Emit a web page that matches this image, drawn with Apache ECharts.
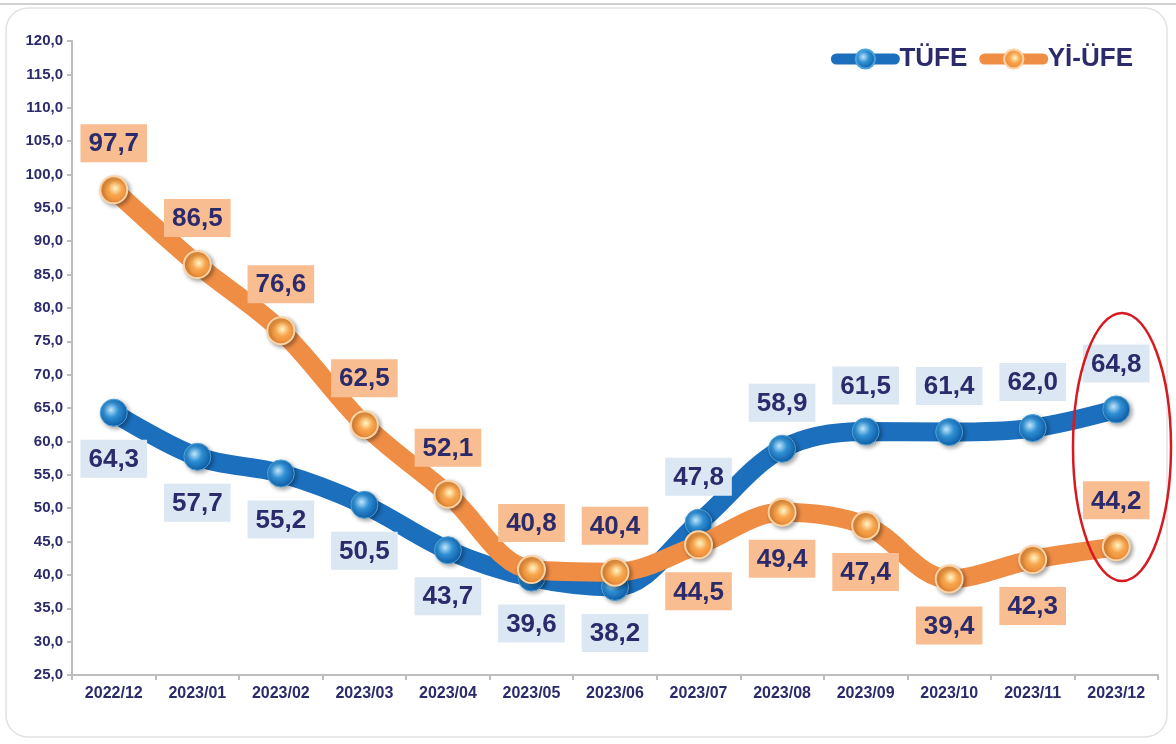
<!DOCTYPE html>
<html>
<head>
<meta charset="utf-8">
<script src="https://cdn.jsdelivr.net/npm/echarts@6/dist/echarts.min.js"></script>
<style>
  html, body { margin: 0; padding: 0; background: #fff; }
  #chart { width: 1176px; height: 744px; }
</style>
</head>
<body>
<div id="chart"></div>
<script>
const months = ['2022/12', '2023/01', '2023/02', '2023/03', '2023/04', '2023/05', '2023/06',
  '2023/07', '2023/08', '2023/09', '2023/10', '2023/11', '2023/12']
const tufe = [64.3, 57.7, 55.2, 50.5, 43.7, 39.6, 38.2, 47.8, 58.9, 61.5, 61.4, 62.0, 64.8]
const yiufe = [97.7, 86.5, 76.6, 62.5, 52.1, 40.8, 40.4, 44.5, 49.4, 47.4, 39.4, 42.3, 44.2]

// which side each value label sits on
const tufeLabelSide = ['bottom', 'bottom', 'bottom', 'bottom', 'bottom', 'bottom', 'bottom',
  'top', 'top', 'top', 'top', 'top', 'top']
const yiufeLabelSide = ['top', 'top', 'top', 'top', 'top', 'top', 'top',
  'bottom', 'bottom', 'bottom', 'bottom', 'bottom', 'top']

const navy = '#2b2a6b'
const font = 'Liberation Sans, Arial, sans-serif'
const fmt = (v) => v.toFixed(1).replace('.', ',')

const blueBall = {
  type: 'radial', x: 0.4, y: 0.4, r: 0.6,
  colorStops: [
    { offset: 0, color: '#bfe6fb' },
    { offset: 0.45, color: '#2f8fd3' },
    { offset: 1, color: '#0f5ea8' },
  ],
}
const orangeBall = {
  type: 'radial', x: 0.55, y: 0.45, r: 0.6,
  colorStops: [
    { offset: 0, color: '#fff6c8' },
    { offset: 0.4, color: '#f7a54d' },
    { offset: 1, color: '#e8822f' },
  ],
}

const makeData = (values, sides, bg) =>
  values.map((v, i) => ({
    value: v,
    label: { position: sides[i], backgroundColor: bg },
  }))

const chart = echarts.init(document.getElementById('chart'))

const baseLabel = {
  show: true,
  formatter: (p) => fmt(p.value),
  color: navy,
  fontSize: 26,
  fontWeight: 'bold',
  fontFamily: font,
  padding: [7, 8, 5, 8],
  distance: 13,
}

chart.setOption({
  backgroundColor: '#fff',
  animation: false,
  grid: { left: 72, right: 18, top: 41, bottom: 69 },
  legend: {
    right: 38,
    top: 41,
    itemWidth: 58,
    itemHeight: 24,
    itemGap: 12,
    lineStyle: { width: 11 },
    textStyle: { color: navy, fontSize: 26, fontWeight: 'bold', fontFamily: font },
    data: ['TÜFE', 'Yİ-ÜFE'],
  },
  xAxis: {
    type: 'category',
    data: months,
    boundaryGap: true,
    axisLine: { lineStyle: { color: '#bdbdbd', width: 2 } },
    axisTick: { show: true, length: 5, lineStyle: { color: '#bdbdbd', width: 2 } },
    axisLabel: { color: navy, fontSize: 16, fontWeight: 'bold', margin: 11, fontFamily: font },
  },
  yAxis: {
    type: 'value',
    min: 25,
    max: 120,
    interval: 5,
    axisLine: { show: true, lineStyle: { color: '#bdbdbd', width: 2 } },
    axisTick: { show: true, length: 5, lineStyle: { color: '#bdbdbd', width: 2 } },
    splitLine: { show: false },
    axisLabel: {
      color: navy, fontSize: 15, fontWeight: 'bold', margin: 9,
      formatter: (v) => fmt(v), fontFamily: font,
    },
  },
  series: [
    {
      name: 'TÜFE',
      type: 'line',
      smooth: 0.35,
      symbol: 'circle',
      symbolSize: 27,
      z: 2,
      lineStyle: { color: '#1b6fbd', width: 19, cap: 'round' },
      itemStyle: {
        color: blueBall,
        borderColor: '#4aa3dc',
        borderWidth: 1,
        shadowColor: 'rgba(0,0,0,0.35)',
        shadowBlur: 4,
        shadowOffsetX: 2,
        shadowOffsetY: 2,
      },
      label: baseLabel,
      data: makeData(tufe, tufeLabelSide, '#dbe7f3'),
    },
    {
      name: 'Yİ-ÜFE',
      type: 'line',
      smooth: 0.35,
      symbol: 'circle',
      symbolSize: 27,
      z: 3,
      lineStyle: { color: '#f08d45', width: 19, cap: 'round' },
      itemStyle: {
        color: orangeBall,
        borderColor: '#fbd3a5',
        borderWidth: 2,
        shadowColor: 'rgba(0,0,0,0.35)',
        shadowBlur: 4,
        shadowOffsetX: 2,
        shadowOffsetY: 2,
      },
      label: baseLabel,
      data: makeData(yiufe, yiufeLabelSide, '#f8bd90'),
    },
  ],
  graphic: [
    {
      type: 'rect',
      silent: true,
      z: -10,
      shape: { x: 6, y: 8, width: 1161, height: 729, r: 22 },
      style: { fill: 'none', stroke: '#e2e2e2', lineWidth: 1.5 },
    },
    {
      type: 'line',
      silent: true,
      shape: { x1: 0, y1: 4, x2: 1176, y2: 4 },
      style: { stroke: '#d0d0d0', lineWidth: 2 },
    },
    {
      type: 'ellipse',
      silent: true,
      z: 100,
      shape: { cx: 1122, cy: 447, rx: 49, ry: 134 },
      style: { fill: 'none', stroke: '#d71920', lineWidth: 2.5 },
    },
  ],
})
</script>
</body>
</html>
